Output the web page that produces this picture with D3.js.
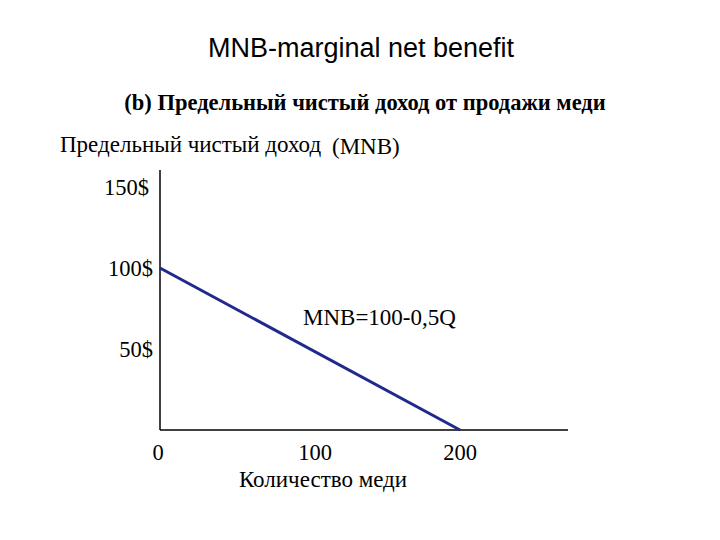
<!DOCTYPE html>
<html><head><meta charset="utf-8">
<script src="https://cdn.jsdelivr.net/npm/d3@7"></script>
<style>body{margin:0;background:#fff}</style></head>
<body><svg id="c" width="720" height="540"></svg>
<script>
const quantity = [0, 200];
const mnb = [100, 0];
const xTicks = [0, 100, 200];
const xTickLabels = ["0", "100", "200"];
const yTicks = [50, 100, 150];
const yTickLabels = ["50$", "100$", "150$"];

const svg = d3.select("#c");
const serif = "Liberation Serif, Times New Roman, serif";
const x = d3.scaleLinear().domain([0, 200]).range([160, 460]);
const y = d3.scaleLinear().domain([0, 150]).range([430, 187]);

svg.append("text").attr("x", 361).attr("y", 57).attr("text-anchor", "middle")
  .attr("font-family", "Liberation Sans, Arial, sans-serif").attr("font-size", 27)
  .text("MNB-marginal net benefit");
svg.append("text").attr("x", 365).attr("y", 110).attr("text-anchor", "middle")
  .attr("font-family", serif).attr("font-weight", "bold").attr("font-size", 22.5)
  .text("(b) Предельный чистый доход от продажи меди");
svg.append("text").attr("x", 60).attr("y", 152).attr("font-family", serif).attr("font-size", 23)
  .text("Предельный чистый доход");
svg.append("text").attr("x", 332).attr("y", 154).attr("font-family", serif).attr("font-size", 23)
  .text("(MNB)");

svg.append("line").attr("x1", x(0)).attr("x2", x(0)).attr("y1", 170).attr("y2", y(0))
  .attr("stroke", "#000").attr("stroke-width", 1.5);
svg.append("line").attr("x1", x(0)).attr("x2", 568).attr("y1", y(0)).attr("y2", y(0))
  .attr("stroke", "#000").attr("stroke-width", 1.5);

svg.selectAll(".yt").data(yTicks).enter().append("text")
  .attr("x", d => d === 150 ? 149 : 153).attr("y", d => y(d) + 8).attr("text-anchor", "end")
  .attr("font-family", serif).attr("font-size", 22.5)
  .text((d, i) => yTickLabels[i]);
svg.selectAll(".xt").data(xTicks).enter().append("text")
  .attr("x", d => d === 0 ? x(d) - 2 : x(d) + (d === 100 ? 5 : 0)).attr("y", 460).attr("text-anchor", "middle")
  .attr("font-family", serif).attr("font-size", 22.5)
  .text((d, i) => xTickLabels[i]);
svg.append("text").attr("x", 323).attr("y", 487).attr("text-anchor", "middle")
  .attr("font-family", serif).attr("font-size", 23).text("Количество меди");

const line = d3.line().x((d, i) => x(quantity[i])).y(d => y(d));
svg.append("path").datum(mnb).attr("d", line).attr("fill", "none")
  .attr("stroke", "#1f2a8c").attr("stroke-width", 3);

svg.append("text").attr("x", 303).attr("y", 325).attr("font-family", serif).attr("font-size", 23)
  .text("MNB=100-0,5Q");
</script></body></html>
